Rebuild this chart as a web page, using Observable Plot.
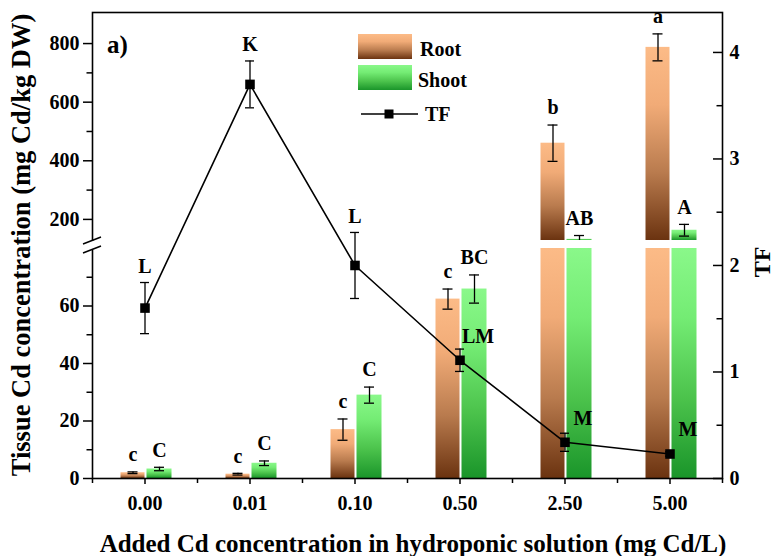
<!DOCTYPE html>
<html><head><meta charset="utf-8">
<script src="https://cdn.jsdelivr.net/npm/d3@7"></script>
<script src="https://cdn.jsdelivr.net/npm/@observablehq/plot@0.6"></script>
<style>
body{margin:0;background:#fff;}
#wrap{position:relative;width:775px;height:556px;overflow:hidden;font-family:"Liberation Serif","Times New Roman",serif;font-weight:bold;color:#000;background:#fff;}
#wrap svg{position:absolute;left:0;top:0;}
.title{position:absolute;white-space:nowrap;font-weight:bold;line-height:1;}
</style></head><body>
<svg width="0" height="0" style="position:absolute">
  <defs>
    <linearGradient id="gRoot" x1="0" y1="0" x2="0" y2="1">
      <stop offset="0" stop-color="#fcbb87"/>
      <stop offset="0.3" stop-color="#f1ab77"/>
      <stop offset="0.65" stop-color="#b97b4e"/>
      <stop offset="1" stop-color="#6b3310"/>
    </linearGradient>
    <linearGradient id="gShoot" x1="0" y1="0" x2="0" y2="1">
      <stop offset="0" stop-color="#8af88a"/>
      <stop offset="0.3" stop-color="#74ec74"/>
      <stop offset="0.65" stop-color="#4cc34c"/>
      <stop offset="1" stop-color="#1a952a"/>
    </linearGradient>
  </defs>
</svg>
<div id="wrap"></div>
<script>
// ---- data ----
const doses = ["0.00", "0.01", "0.10", "0.50", "2.50", "5.00"];
const rootMean = [2.0, 1.5, 17.0, 62.4, 460, 787];
const rootSE = [0.3, 0.3, 3.7, 3.5, 62, 46];
const shootMean = [3.3, 5.3, 29.0, 65.9, 132, 163];
const shootSE = [0.6, 0.8, 2.8, 4.9, 13, 20];
const tfMean = [1.60, 3.70, 2.00, 1.11, 0.34, 0.23];
const tfSE = [0.24, 0.22, 0.31, 0.105, 0.085, 0.02];
const rootLetters = ["c", "c", "c", "c", "b", "a"];
const shootLetters = ["C", "C", "C", "BC", "AB", "A"];
const tfLetters = ["L", "K", "L", "LM", "M", "M"];
const lowerTicks = [0, 20, 40, 60];
const lowerMinor = [10, 30, 50, 70];
const upperTicks = [200, 400, 600, 800];
const upperMinor = [300, 500, 700];
const tfTicks = [0, 1, 2, 3, 4];
const tfMinor = [0.5, 1.5, 2.5, 3.5];
const LOW_MAX = 80, UP_MIN = 128, UP_MAX = 906, TF_MAX = 4.375;

// ---- layout ----
const W = 775, H = 556, ML = 92, MR = 53, MT = 12, MB = 78;
const BREAK_LO = 248, BREAK_HI = 240;
const FW = W - ML - MR;
const BAND = FW / doses.length;
const FONT = '"Liberation Serif","Times New Roman",serif';
const style = {background: "transparent", fontFamily: FONT, fontSize: "20px", fontWeight: "bold", color: "#000", overflow: "visible"};
const rows = doses.map((d, i) => ({dose: d, root: rootMean[i], rootSE: rootSE[i], shoot: shootMean[i], shootSE: shootSE[i],
  tf: tfMean[i], tfSE: tfSE[i], rl: rootLetters[i], sl: shootLetters[i], tl: tfLetters[i], i}));
const xOpt = {type: "band", domain: doses, padding: 0};
const RDX = -12, SDX = 14.5; // bar centres relative to band centre
const rootBar = {insetLeft: BAND / 2 - 24, insetRight: BAND / 2};
const shootBar = {insetLeft: BAND / 2 + 2, insetRight: BAND / 2 - 27};
const cap = (dx, w) => ({insetLeft: BAND / 2 + dx - w / 2, insetRight: BAND / 2 - dx - w / 2});
const ink = {stroke: "#000", strokeWidth: 1.3};

function errMarks(data, key, seKey, dx, letterKey, extra = {}) {
  return [
    Plot.ruleX(data, {x: "dose", y1: d => d[key] - d[seKey], y2: d => d[key] + d[seKey], dx, ...ink, ...extra}),
    Plot.tickY(data, {x: "dose", y: d => d[key] + d[seKey], ...cap(dx, 10), ...ink, ...extra}),
    Plot.tickY(data, {x: "dose", y: d => d[key] - d[seKey], ...cap(dx, 10), ...ink, ...extra}),
    Plot.text(data, {x: "dose", y: d => d[key] + d[seKey], text: letterKey, dx, dy: -17, fontSize: 20, fontWeight: "bold", fill: "#000"})
  ];
}

// lower segment
const lowRows = rows.filter(d => d.root <= LOW_MAX);
const lowShoot = rows.filter(d => d.shoot <= LOW_MAX);
const pLow = Plot.plot({
  width: W, height: H, marginLeft: ML, marginRight: MR, marginTop: BREAK_LO, marginBottom: MB, style,
  x: xOpt,
  y: {domain: [0, LOW_MAX]},
  marks: [
    Plot.barY(rows, {x: "dose", y1: 0, y2: d => Math.min(d.root, LOW_MAX), fill: "url(#gRoot)", ...rootBar}),
    Plot.barY(rows, {x: "dose", y1: 0, y2: d => Math.min(d.shoot, LOW_MAX), fill: "url(#gShoot)", ...shootBar}),
    ...errMarks(lowRows, "root", "rootSE", RDX, "rl"),
    ...errMarks(lowShoot, "shoot", "shootSE", SDX, "sl"),
    Plot.axisY({ticks: lowerTicks, tickSize: 9, tickPadding: 4, label: null, strokeWidth: 1.5, fontSize: 20}),
    Plot.axisY({ticks: lowerMinor, tickSize: 5.5, tickFormat: () => "", label: null, strokeWidth: 1.5}),
    Plot.axisX({tickSize: 6, tickPadding: 11, label: null, strokeWidth: 1.5, fontSize: 20}),
    Plot.ruleX(doses, {x: d => d, dx: -BAND / 2, insetTop: H - BREAK_LO - MB, insetBottom: -5, strokeWidth: 1.5}),
    Plot.ruleX(doses.slice(-1), {x: d => d, dx: BAND / 2, insetTop: H - BREAK_LO - MB, insetBottom: -5, strokeWidth: 1.5})
  ]
});

// upper segment
const upRoot = rows.filter(d => d.root > LOW_MAX);
const upShoot = rows.filter(d => d.shoot > LOW_MAX);
const pUp = Plot.plot({
  width: W, height: H, marginLeft: ML, marginRight: MR, marginTop: MT, marginBottom: H - BREAK_HI, style,
  x: {...xOpt, axis: null},
  y: {domain: [UP_MIN, UP_MAX]},
  marks: [
    Plot.barY(upRoot, {x: "dose", y1: UP_MIN, y2: "root", fill: "url(#gRoot)", ...rootBar}),
    Plot.barY(upShoot, {x: "dose", y1: UP_MIN, y2: "shoot", fill: "url(#gShoot)", ...shootBar}),
    ...errMarks(upRoot, "root", "rootSE", RDX, "rl", {clip: true}),
    ...errMarks(upShoot, "shoot", "shootSE", SDX, "sl", {clip: true}),
    Plot.axisY({ticks: upperTicks, tickSize: 9, tickPadding: 4, label: null, strokeWidth: 1.5, fontSize: 20}),
    Plot.axisY({ticks: upperMinor, tickSize: 5.5, tickFormat: () => "", label: null, strokeWidth: 1.5})
  ]
});

// TF (right axis) + frame
const tfAbove = rows.filter(d => d.i < 3);
const tfRight = rows.filter(d => d.i >= 3);
const pTF = Plot.plot({
  width: W, height: H, marginLeft: ML, marginRight: MR, marginTop: MT, marginBottom: MB, style,
  x: {...xOpt, axis: null},
  y: {domain: [0, TF_MAX]},
  marks: [
    Plot.frame({stroke: "#000", strokeWidth: 1.6}),
    Plot.line(rows, {x: "dose", y: "tf", stroke: "#000", strokeWidth: 1.6}),
    Plot.ruleX(rows, {x: "dose", y1: d => d.tf - d.tfSE, y2: d => d.tf + d.tfSE, ...ink}),
    Plot.tickY(rows, {x: "dose", y: d => d.tf + d.tfSE, ...cap(0, 9), ...ink}),
    Plot.tickY(rows, {x: "dose", y: d => d.tf - d.tfSE, ...cap(0, 9), ...ink}),
    Plot.dot(rows, {x: "dose", y: "tf", symbol: "square", r: 5.4, fill: "#000", stroke: "none"}),
    Plot.text(tfAbove, {x: "dose", y: d => d.tf + d.tfSE, text: "tl", dy: -16, fontSize: 20, fontWeight: "bold", fill: "#000"}),
    Plot.text(tfRight, {x: "dose", y: "tf", text: "tl", dx: 18, dy: -24, fontSize: 20, fontWeight: "bold", fill: "#000"}),
    Plot.axisY({anchor: "right", ticks: tfTicks, tickSize: 0, tickPadding: 7, tickFormat: d3.format("d"), label: null, fontSize: 20}),
    Plot.tickY(tfTicks, {y: d => d, insetLeft: FW - 9, strokeWidth: 1.5}),
    Plot.tickY(tfMinor, {y: d => d, insetLeft: FW - 5.5, strokeWidth: 1.5})
  ]
});

const wrap = document.getElementById("wrap");
for (const p of [pLow, pUp, pTF]) wrap.appendChild(p);

// decorations: axis break, panel tag, legend
const ns = "http://www.w3.org/2000/svg";
const deco = document.createElementNS(ns, "svg");
deco.setAttribute("width", W); deco.setAttribute("height", H);
deco.innerHTML = `
  <rect x="${ML - 4}" y="${BREAK_HI + 1}" width="8" height="${BREAK_LO - BREAK_HI + 1}" fill="#fff"/>
  <line x1="${ML - 9}" y1="${BREAK_HI + 4}" x2="${ML + 9}" y2="${BREAK_HI - 3}" stroke="#000" stroke-width="1.5"/>
  <line x1="${ML - 9}" y1="${BREAK_LO + 5}" x2="${ML + 9}" y2="${BREAK_LO - 2}" stroke="#000" stroke-width="1.5"/>
  <text x="107" y="53" font-family='${FONT}' font-weight="bold" font-size="25">a)</text>
  <rect x="358" y="34" width="54" height="25" fill="url(#gRoot)"/>
  <text x="420" y="56" font-family='${FONT}' font-weight="bold" font-size="20">Root</text>
  <rect x="358" y="65" width="54" height="25" fill="url(#gShoot)"/>
  <text x="418" y="87" font-family='${FONT}' font-weight="bold" font-size="20">Shoot</text>
  <line x1="361" y1="114" x2="418" y2="114" stroke="#000" stroke-width="1.6"/>
  <rect x="384.5" y="109.5" width="9" height="9" fill="#000"/>
  <text x="425" y="121" font-family='${FONT}' font-weight="bold" font-size="20">TF</text>
`;
wrap.appendChild(deco);

function addTitle(text, cx, cy, size, rot) {
  const d = document.createElement("div");
  d.className = "title";
  d.textContent = text;
  d.style.fontSize = size + "px";
  d.style.left = cx + "px";
  d.style.top = cy + "px";
  d.style.transform = `translate(-50%,-50%)${rot ? " rotate(-90deg)" : ""}`;
  wrap.appendChild(d);
}
addTitle("Added Cd concentration in hydroponic solution (mg Cd/L)", 413, 543, 25, false);
addTitle("Tissue Cd concentration (mg Cd/kg DW)", 21, 245, 26.5, true);
addTitle("TF", 762, 262, 24, true);
</script>
</body></html>
